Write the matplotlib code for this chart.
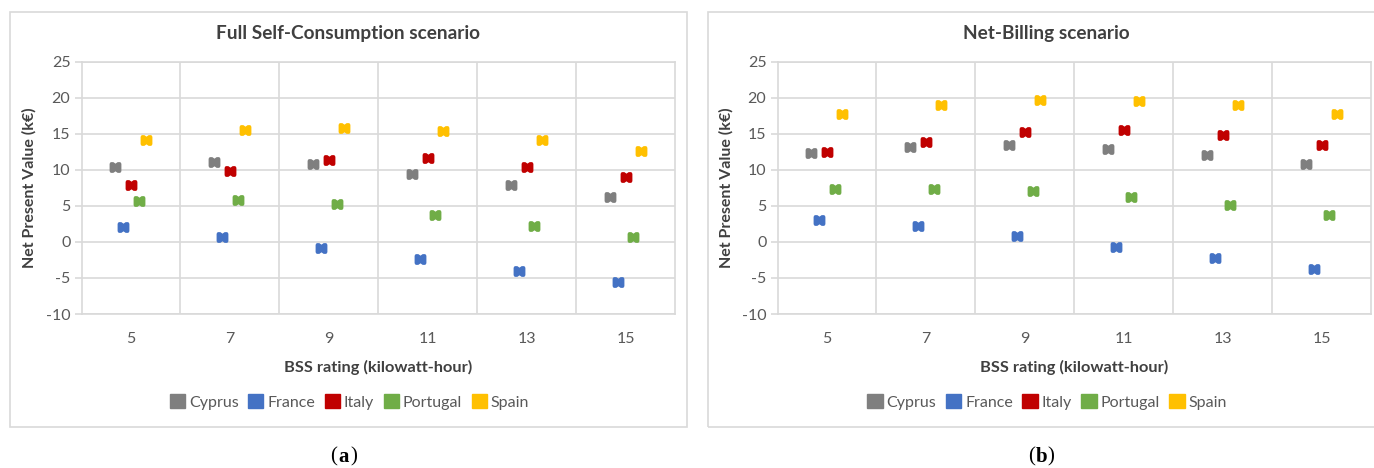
import numpy as np
import matplotlib
matplotlib.use("Agg")
import matplotlib.pyplot as plt
from matplotlib.path import Path
from matplotlib.patches import Rectangle, Patch

plt.rcParams["axes.unicode_minus"] = False

# ---- data -------------------------------------------------------------
bss_ratings = [5, 7, 9, 11, 13, 15]
countries = ["Cyprus", "France", "Italy", "Portugal", "Spain"]
colors = ["#7F7F7F", "#4472C4", "#C00000", "#70AD47", "#FFC000"]

# Net present value (k€), full self-consumption scenario
fsc_cyprus = [10.4, 11.1, 10.8, 9.4, 7.9, 6.2]
fsc_france = [2.1, 0.7, -0.9, -2.4, -4.0, -5.5]
fsc_italy = [7.9, 9.8, 11.3, 11.6, 10.4, 9.0]
fsc_portugal = [5.7, 5.8, 5.3, 3.8, 2.2, 0.7]
fsc_spain = [14.1, 15.5, 15.8, 15.4, 14.1, 12.6]

# Net present value (k€), net-billing scenario
nb_cyprus = [12.4, 13.1, 13.4, 12.9, 12.1, 10.8]
nb_france = [3.1, 2.2, 0.8, -0.7, -2.3, -3.8]
nb_italy = [12.5, 13.9, 15.2, 15.5, 14.9, 13.5]
nb_portugal = [7.4, 7.4, 7.1, 6.3, 5.1, 3.7]
nb_spain = [17.8, 19.0, 19.7, 19.6, 19.0, 17.8]

panels = [
    ("Full Self-Consumption scenario", "a",
     [fsc_cyprus, fsc_france, fsc_italy, fsc_portugal, fsc_spain]),
    ("Net-Billing scenario", "b",
     [nb_cyprus, nb_france, nb_italy, nb_portugal, nb_spain]),
]

# ---- figure layout (pixel based) --------------------------------------
W, H = 1374, 468
fig = plt.figure(figsize=(W / 100, H / 100), dpi=100)
fig.patch.set_facecolor("white")

def fx(px):
    return px / W

def fy(py):
    return 1 - py / H

# notched "bow" marker
marker_path = Path([
    (-0.55, 0.35), (-0.45, 0.5), (-0.2, 0.5), (0.0, 0.36), (0.2, 0.5),
    (0.45, 0.5), (0.55, 0.35), (0.55, -0.35), (0.45, -0.5), (0.2, -0.5),
    (0.0, -0.36), (-0.2, -0.5), (-0.45, -0.5), (-0.55, -0.35), (-0.55, 0.35),
], closed=True)

grid_c = "#D9D9D9"
text_dark = "#404040"
text_mid = "#595959"
FONT = "Lato"

# per-panel geometry: box (x0, x1), plot (x0, x1), ylabel x
geoms = [
    dict(box=(10, 687), plot=(81.5, 675), ylab=29),
    dict(box=(707.5, 1385), plot=(777.5, 1371), ylab=726),
]
plot_top, plot_bot = 61.7, 314
box_top, box_bot = 12.3, 427

offsets = np.array([-2, -1, 0, 1, 2]) * 0.157

for (title, tag, series), g in zip(panels, geoms):
    bx0, bx1 = g["box"]
    fig.patches.append(Rectangle((fx(bx0), fy(box_bot)), fx(bx1 - bx0),
                                 (box_bot - box_top) / H, transform=fig.transFigure,
                                 fill=False, edgecolor="#D9D9D9", lw=1.2))
    px0, px1 = g["plot"]
    ax = fig.add_axes([fx(px0), fy(plot_bot), fx(px1 - px0),
                       (plot_bot - plot_top) / H])
    ax.set_xlim(4, 16)
    ax.set_ylim(-10, 25)
    ax.set_yticks(np.arange(-10, 26, 5))
    ax.set_xticks(bss_ratings)
    ax.set_xticks([6, 8, 10, 12, 14], minor=True)
    ax.grid(True, axis="y", which="major", color=grid_c, lw=1.2)
    ax.grid(True, axis="x", which="minor", color=grid_c, lw=1.2)
    ax.set_axisbelow(True)
    for s in ax.spines.values():
        s.set_color(grid_c)
        s.set_linewidth(1.2)
    ax.tick_params(axis="y", length=5, color=grid_c, width=1.2,
                   labelsize=11.5, labelcolor=text_mid, pad=3)
    ax.tick_params(axis="x", which="both", length=0, labelsize=11.5,
                   labelcolor=text_mid, pad=13)
    for lab in ax.get_xticklabels() + ax.get_yticklabels():
        lab.set_fontfamily(FONT)

    for i, (vals, c) in enumerate(zip(series, colors)):
        x = np.array(bss_ratings, dtype=float) + offsets[i]
        ax.plot(x, vals, linestyle="none", marker=marker_path,
                markersize=8.5, color=c, markeredgewidth=0, label=countries[i])

    cx_box = (bx0 + bx1) / 2
    cx_plot = (px0 + px1) / 2
    fig.text(fx(cx_box), fy(33), title, ha="center", va="center",
             fontsize=13.7, fontweight="bold", color=text_dark, family=FONT)
    fig.text(fx(cx_plot), fy(367), "BSS rating (kilowatt-hour)", ha="center",
             va="center", fontsize=11.8, fontweight="bold", color=text_dark,
             family=FONT)
    fig.text(fx(g["ylab"]), fy(188), "Net Present Value (k€)",
             ha="center", va="center", rotation=90, fontsize=11.5,
             fontweight="bold", color=text_dark, family=FONT)

    handles = [Patch(facecolor=c, edgecolor=c, label=n)
               for n, c in zip(countries, colors)]
    fig.legend(handles=handles, loc="center", ncol=5,
               bbox_to_anchor=(fx(cx_box + 1), fy(402)),
               frameon=False, handlelength=0.95, handleheight=1.0,
               handletextpad=0.25, columnspacing=0.6,
               prop=dict(family=FONT, size=11.5), labelcolor=text_mid)

    # sub-figure tag: regular parentheses around a bold letter
    tx = cx_box - 5
    fig.text(fx(tx - 10), fy(457), "(", ha="center", va="center",
             fontsize=15, color="black", family="Liberation Serif")
    fig.text(fx(tx), fy(457), tag, ha="center", va="center",
             fontsize=15, fontweight="bold", color="black",
             family="Liberation Serif")
    fig.text(fx(tx + 10), fy(457), ")", ha="center", va="center",
             fontsize=15, color="black", family="Liberation Serif")

fig.savefig("out.png", dpi=100, facecolor="white")
